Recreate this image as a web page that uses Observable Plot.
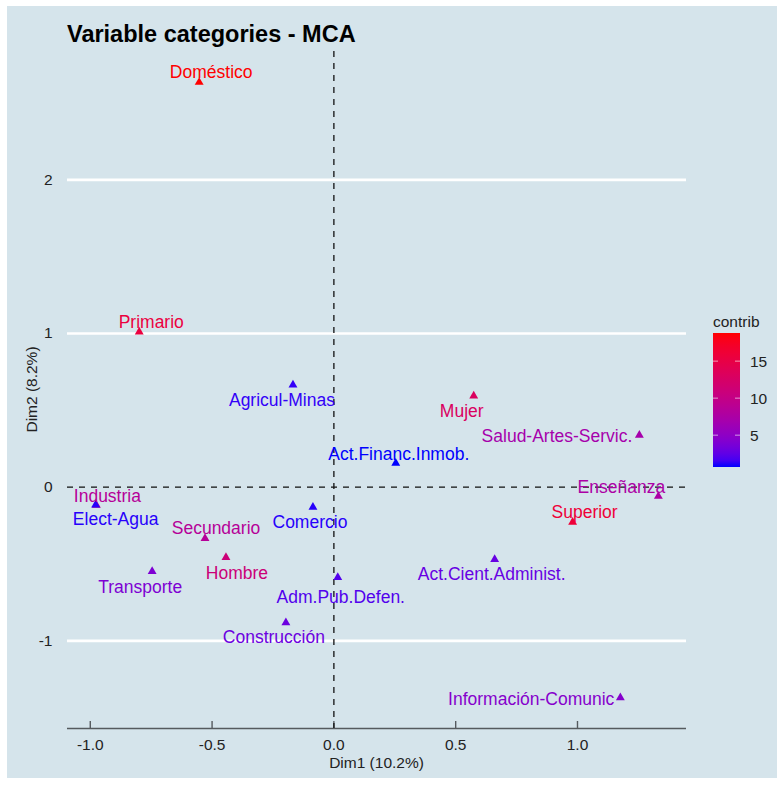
<!DOCTYPE html>
<html>
<head>
<meta charset="utf-8">
<script src="https://cdn.jsdelivr.net/npm/d3@7"></script>
<script src="https://cdn.jsdelivr.net/npm/@observablehq/plot@0.6"></script>
<style>
  html, body { margin: 0; padding: 0; background: #ffffff; }
  #chart { position: relative; width: 784px; height: 785px; }
</style>
</head>
<body>
<div id="chart"></div>
<script>
// ---- data ----
const categories = ["Doméstico","Primario","Agricul-Minas","Act.Financ.Inmob.","Mujer","Salud-Artes-Servic.","Enseñanza","Superior","Act.Cient.Administ.","Industria","Elect-Agua","Comercio","Secundario","Hombre","Transporte","Adm.Pub.Defen.","Construcción","Información-Comunic"];
const dim1 = [-0.553,-0.799,-0.168,0.254,0.574,1.254,1.332,0.980,0.660,-0.975,-0.978,-0.086,-0.529,-0.443,-0.746,0.016,-0.197,1.176];
const dim2 = [2.635,1.011,0.665,0.157,0.594,0.339,-0.059,-0.228,-0.470,-0.117,-0.115,-0.130,-0.333,-0.457,-0.548,-0.587,-0.881,-1.370];
const contrib = [18.8,15.5,1.2,0.7,13.0,7.0,7.5,16.0,2.8,8.5,1.0,1.0,8.5,11.0,4.0,2.0,3.0,4.5];
const xTicks = [-1.0,-0.5,0.0,0.5,1.0];
const yTicks = [-1,0,1,2];
const legendTicks = [5,10,15];
const xLabel = "Dim1 (10.2%)";
const yLabel = "Dim2 (8.2%)";
const titleText = "Variable categories - MCA";
const legendTitle = "contrib";

// label placement (repel-like offsets in pixels, layout only)
const nudge = {
  "Doméstico": [12,-10,"middle"],
  "Primario": [12,-9,"middle"],
  "Agricul-Minas": [-11,15,"middle"],
  "Act.Financ.Inmob.": [3,-9,"middle"],
  "Mujer": [-12,15,"middle"],
  "Salud-Artes-Servic.": [-7,1,"end"],
  "Enseñanza": [-37,-9,"middle"],
  "Superior": [12,-10,"middle"],
  "Act.Cient.Administ.": [-3,15,"middle"],
  "Industria": [11,-9,"middle"],
  "Elect-Agua": [20,15,"middle"],
  "Comercio": [-3,15,"middle"],
  "Secundario": [11,-10,"middle"],
  "Hombre": [11,16,"middle"],
  "Transporte": [-12,16,"middle"],
  "Adm.Pub.Defen.": [3,20,"middle"],
  "Construcción": [-12,15,"middle"],
  "Información-Comunic": [-6,2,"end"]
};

const data = categories.map((c, i) => ({name: c, x: dim1[i], y: dim2[i], contrib: contrib[i]}));

function expand(ext, f = 0.05) { const r = ext[1] - ext[0]; return [ext[0] - r * f, ext[1] + r * f]; }
const xDom = expand(d3.extent(dim1));
const yDom = expand(d3.extent(dim2));
const cDom = d3.extent(contrib);

const W = 784, H = 785;
const mL = 67, mR = 98, mT = 51, mB = 57;
const bg = "#d5e4eb";
const font = "'Liberation Sans', Arial, Helvetica, sans-serif";
const fmtX = d => d.toFixed(1);
const fmtY = d => String(d);

const labelMarks = data.map(d => {
  const n = nudge[d.name] || [0,0,"middle"];
  return Plot.text([d], {x: "x", y: "y", text: "name", fill: "contrib", dx: n[0], dy: n[1], textAnchor: n[2], fontSize: 17.5});
});

const plot = Plot.plot({
  width: W, height: H,
  marginLeft: mL, marginRight: mR, marginTop: mT, marginBottom: mB,
  style: {background: "transparent", fontFamily: font, fontSize: "15px", color: "#222", overflow: "visible"},
  x: {domain: xDom, ticks: xTicks, tickFormat: fmtX},
  y: {domain: yDom, ticks: yTicks, tickFormat: fmtY},
  color: {type: "linear", domain: cDom, range: ["blue", "red"], interpolate: d3.interpolateLab},
  marks: [
    Plot.ruleY(yTicks.filter(v => v !== 0), {stroke: "#ffffff", strokeWidth: 2.6}),
    Plot.ruleY([yDom[0]], {stroke: "#555a5e", strokeWidth: 1.6}),
    Plot.ruleX(xTicks, {stroke: "#555a5e", strokeWidth: 1.4, insetTop: H - mT - mB - 7}),
    Plot.ruleY([0], {stroke: "#111", strokeWidth: 1.3, strokeDasharray: "6,6"}),
    Plot.ruleX([0], {stroke: "#111", strokeWidth: 1.3, strokeDasharray: "6,6"}),
    Plot.axisX({ticks: xTicks, tickFormat: fmtX, tickSize: 0, tickPadding: 10, label: null, fontSize: 15.5, fill: "#222"}),
    Plot.axisY({ticks: yTicks, tickFormat: fmtY, tickSize: 0, tickPadding: 15, label: null, fontSize: 15.5, fill: "#222"}),
    Plot.dot(data, {x: "x", y: "y", fill: "contrib", symbol: "triangle", r: 3.3}),
    ...labelMarks
  ]
});

const svg = d3.select(plot);
// panel background
svg.insert("rect", ":first-child").attr("x", 7).attr("y", 6).attr("width", 770).attr("height", 772).attr("fill", bg);

// title
svg.append("text").attr("x", 67).attr("y", 42).attr("text-anchor", "start").attr("font-family", font).attr("font-weight", "bold")
  .attr("font-size", 23.5).attr("fill", "#000").text(titleText);

// axis titles
svg.append("text").attr("x", (mL + W - mR) / 2).attr("y", 768).attr("text-anchor", "middle")
  .attr("font-family", font).attr("font-size", 15.5).attr("fill", "#222").text(xLabel);
const yc = (mT + H - mB) / 2;
svg.append("text").attr("transform", `translate(37,${yc}) rotate(-90)`).attr("text-anchor", "middle")
  .attr("font-family", font).attr("font-size", 15.5).attr("fill", "#222").text(yLabel);

// colour bar legend
const cs = plot.scale("color");
const lx = 713, ly = 333, lw = 27, lh = 134;
const ly2 = d3.scaleLinear().domain([cDom[1], cDom[0]]).range([ly, ly + lh]);
const defs = svg.append("defs");
const grad = defs.append("linearGradient").attr("id", "cgrad").attr("x1", 0).attr("x2", 0).attr("y1", 0).attr("y2", 1);
d3.range(0, 21).forEach(i => {
  const t = i / 20;
  const v = cDom[1] - t * (cDom[1] - cDom[0]);
  grad.append("stop").attr("offset", t).attr("stop-color", cs.apply(v));
});
const lg = svg.append("g").attr("text-anchor", "start");
lg.append("text").attr("x", lx).attr("y", 327).attr("text-anchor", "start").attr("font-family", font).attr("font-size", 15.5).attr("fill", "#222").text(legendTitle);
lg.append("rect").attr("x", lx).attr("y", ly).attr("width", lw).attr("height", lh).attr("fill", "url(#cgrad)");
legendTicks.forEach(v => {
  const yy = ly2(v);
  lg.append("line").attr("x1", lx).attr("x2", lx + 5).attr("y1", yy).attr("y2", yy).attr("stroke", "#fff").attr("stroke-opacity", 0.6);
  lg.append("line").attr("x1", lx + lw - 5).attr("x2", lx + lw).attr("y1", yy).attr("y2", yy).attr("stroke", "#fff").attr("stroke-opacity", 0.6);
  lg.append("text").attr("x", 750).attr("y", yy).attr("dy", "0.36em").attr("text-anchor", "start").attr("font-family", font).attr("font-size", 15.5).attr("fill", "#222").text(v);
});

document.getElementById("chart").appendChild(plot);
</script>
</body>
</html>
